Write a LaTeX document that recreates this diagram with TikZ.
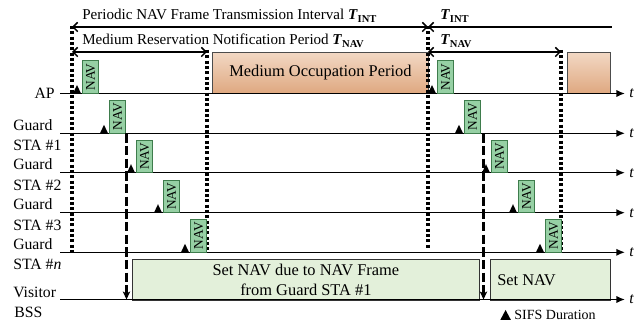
\documentclass[tikz,border=0pt]{standalone}
\usepackage{fontspec}
\setmainfont{Liberation Serif}
\usetikzlibrary{arrows.meta}
\definecolor{navfill}{HTML}{96D0A4}
\definecolor{navdraw}{HTML}{3E7C4C}
\definecolor{occtop}{HTML}{F2D8C4}
\definecolor{occbot}{HTML}{DFA880}
\definecolor{setfill}{HTML}{E3F0DA}
\newcommand{\Tsub}[1]{\textbf{\textit{T}}\textsubscript{\textbf{#1}}}
\begin{document}
\begin{tikzpicture}[x=0.75pt,y=-0.75pt,
  axis/.style={line width=1.1pt,-{Latex[length=6.5pt,width=5.5pt]}},
  dotv/.style={line width=2.3pt,dash pattern=on 2.3pt off 1.7pt},
  dashv/.style={line width=2.2pt,dash pattern=on 7pt off 2.5pt,-{Stealth[length=6pt,width=5.5pt,inset=1.5pt]}},
  span/.style={line width=1.1pt,{Straight Barb[length=3.5pt,width=7pt]}-{Straight Barb[length=3.5pt,width=7pt]}},
  lspan/.style={line width=1.1pt,{Straight Barb[length=3.5pt,width=7pt]}-},
  navbox/.style={draw=navdraw,fill=navfill,line width=0.5pt,rotate=90,minimum width=24.5pt,minimum height=12pt,inner sep=0pt,font=\fontsize{10}{11}\selectfont},
  occ/.style={top color=occtop,bottom color=occbot,draw=black!70,line width=0.6pt},
  setnav/.style={fill=setfill,draw=black!80,line width=0.6pt},
  lbl/.style={font=\fontsize{11.8}{13}\selectfont,inner sep=0pt},
  txt/.style={font=\fontsize{11.3}{14}\selectfont,inner sep=0pt},
  btxt/.style={font=\fontsize{12.3}{15}\selectfont,inner sep=0pt},
  tlab/.style={font=\fontsize{11.8}{13}\selectfont\itshape,inner sep=0pt,anchor=west}
]
\useasboundingbox (0,0) rectangle (644,324);

% boxes
\node[occ,minimum width=162pt,minimum height=30.75pt,inner sep=0pt,anchor=north west] (occ1) at (212,52) {};
\node[btxt] (occt) at (occ1.center) {Medium Occupation Period};
\node[occ,minimum width=32.25pt,minimum height=30.75pt,inner sep=0pt,anchor=north west] (occ2) at (567,52) {};
\node[setnav,minimum width=260.25pt,minimum height=30.5pt,inner sep=0pt,anchor=north west] (set1) at (132,259) {};
\node[btxt,align=center] (set1t) at (set1.center) {Set NAV due to NAV Frame\\from Guard STA \#1};
\node[setnav,minimum width=90pt,minimum height=30.5pt,inner sep=0pt,anchor=north west] (set2) at (490,259) {};
\node[btxt,anchor=west] (set2t) at (497,280) {Set NAV};

% axes
\foreach \n/\y in {a/93.5,b/133.3,c/172.7,d/212.7,e/252.3,f/299.5}{
  \coordinate (\n0) at (60,\y);
  \coordinate (\n1) at (625,\y);
  \draw[axis] (\n0) -- (\n1);
  \node[tlab] (t\n) at (629,\y) {t};
}

% labels
\node[lbl,anchor=base east] (lap) at (55,99) {AP};
\foreach \n/\y/\s in {1/133.3/\#1,2/172.7/\#2,3/212.7/\#3,4/252.3/\#\textit{n}}{
  \node[lbl,anchor=base west] (lg\n) at (13,\y-3) {Guard};
  \node[lbl,anchor=base west] (ls\n) at (13,\y+17.5) {STA \s};
}
\node[lbl,anchor=base west] (lv) at (13,298) {Visitor};
\node[lbl,anchor=base west] (lb) at (14,318) {BSS};

% dotted vertical lines
\coordinate (d1t) at (72,26); \coordinate (d1b) at (72,252.3);
\coordinate (d2t) at (207,50); \coordinate (d2b) at (207,252.3);
\coordinate (d3t) at (428,26); \coordinate (d3b) at (428,248);
\coordinate (d4t) at (561,50); \coordinate (d4b) at (561,252.3);
\draw[dotv] (d1t) -- (d1b);
\draw[dotv] (d2t) -- (d2b);
\draw[dotv] (d3t) -- (d3b);
\draw[dotv] (d4t) -- (d4b);

% top spans
\coordinate (p1a) at (72,27); \coordinate (p1b) at (428,27);
\coordinate (p2a) at (428,27); \coordinate (p2b) at (612,27);
\coordinate (m1a) at (72,52); \coordinate (m1b) at (207,52);
\coordinate (m2a) at (428,52); \coordinate (m2b) at (561,52);
\draw[span] (p1a) -- (p1b);
\draw[lspan] (p2a) -- (p2b);
\draw[span] (m1a) -- (m1b);
\draw[span] (m2a) -- (m2b);
\node[txt,anchor=base west] (ptxt) at (82,20) {Periodic NAV Frame Transmission Interval \Tsub{INT}};
\node[txt,anchor=base west] (mtxt) at (82,45) {Medium Reservation Notification Period \Tsub{NAV}};
\node[txt,anchor=base west] (ptxt2) at (440,20) {\Tsub{INT}};
\node[txt,anchor=base west] (mtxt2) at (440,45) {\Tsub{NAV}};

% NAV frames and SIFS triangles
\foreach \k/\y in {0/93.5,1/133.3,2/172.7,3/212.7,4/252.3}{
  \pgfmathsetmacro{\xa}{82.5+27*\k}
  \pgfmathsetmacro{\xb}{437.5+27*\k}
  \node[navbox] (nava\k) at (\xa+8,\y-16.5) {NAV};
  \node[navbox] (navb\k) at (\xb+8,\y-16.5) {NAV};
  \fill (\xa-9.5,\y) -- (\xa-5.5,\y-8.5) -- (\xa-1.5,\y) -- cycle;
  \fill (\xb-9.5,\y) -- (\xb-5.5,\y-8.5) -- (\xb-1.5,\y) -- cycle;
}

% dashed arrows
\coordinate (da1) at (126.5,133.3); \coordinate (db1) at (126.5,299.5);
\coordinate (da2) at (483.5,133.3); \coordinate (db2) at (483.5,299.5);
\draw[dashv] (da1) -- (db1);
\draw[dashv] (da2) -- (db2);

% legend
\node[font=\fontsize{10.5}{12}\selectfont,anchor=base west,inner sep=0pt] (leg) at (500,320) {\tikz\fill (0,0) -- (4pt,7.5pt) -- (8pt,0) -- cycle;\ SIFS Duration};
\end{tikzpicture}
\end{document}
